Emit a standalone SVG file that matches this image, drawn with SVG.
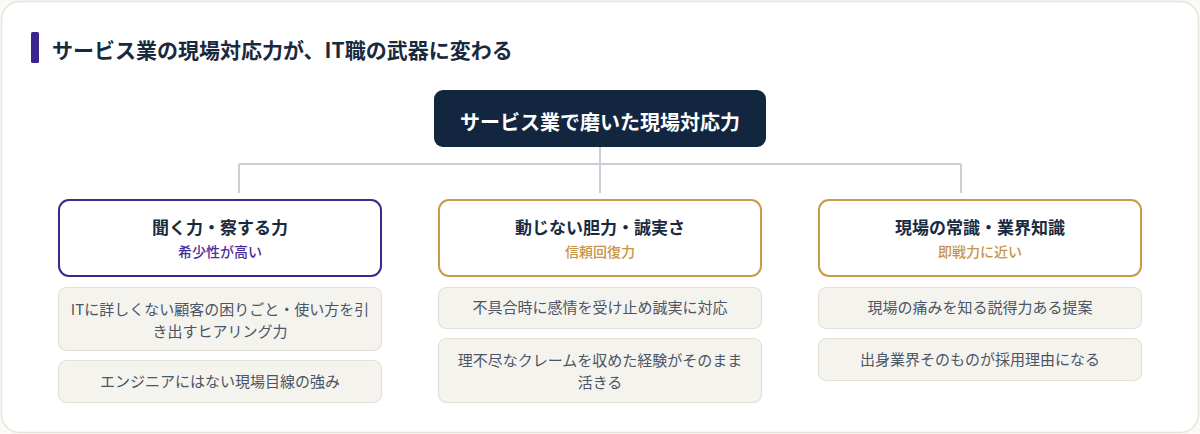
<svg xmlns="http://www.w3.org/2000/svg" width="1200" height="434" viewBox="0 0 1200 434">
<style>
text{font-family:"Noto Sans CJK JP","Noto Sans",sans-serif;text-anchor:middle}
.cat{fill:#fff;stroke-width:2}
.ct{font-size:17px;font-weight:700;fill:#1a2a3e}
.cs{font-size:14px;font-weight:500}
.item rect{fill:#f5f3ee;stroke:#e3e0d7;stroke-width:1.2}
.item text{font-size:15px;fill:#4a5565}
.conn{stroke:#c9ced6;stroke-width:2;fill:none}
</style>
<rect x="0" y="0" width="1200" height="434" fill="#fbfaf6"/>
<rect x="1.5" y="1.5" width="1197" height="431" rx="18" fill="#fff" stroke="#e8e4d8" stroke-width="1.5"/>
<g id="title">
<rect x="31" y="32" width="8" height="31" rx="1.5" fill="#3a2590"/>
<text x="52" y="58" style="text-anchor:start;font-size:21px;font-weight:700;fill:#1a2a3e">サービス業の現場対応力が、IT職の武器に変わる</text>
</g>
<g id="connectors" class="conn">
<path d="M600 147V164M239 164H961M239 164V193M600 164V193M961 164V193"/>
</g>
<g id="root">
<rect x="434" y="90" width="332" height="57" rx="9" fill="#13263f"/>
<text x="600" y="130" style="font-size:20px;font-weight:700;fill:#fff">サービス業で磨いた現場対応力</text>
</g>
<g id="cat1">
<rect class="cat" x="59" y="200" width="322" height="76" rx="10" stroke="#3b2a8c"/>
<text class="ct" x="220" y="234">聞く力・察する力</text>
<text class="cs" x="220" y="257" fill="#4a2f9c">希少性が高い</text>
</g>
<g id="cat2">
<rect class="cat" x="439" y="200" width="322" height="76" rx="10" stroke="#c99a4a"/>
<text class="ct" x="600" y="234">動じない胆力・誠実さ</text>
<text class="cs" x="600" y="257" fill="#c6944a">信頼回復力</text>
</g>
<g id="cat3">
<rect class="cat" x="819" y="200" width="322" height="76" rx="10" stroke="#c99a4a"/>
<text class="ct" x="980" y="234">現場の常識・業界知識</text>
<text class="cs" x="980" y="257" fill="#c6944a">即戦力に近い</text>
</g>
<g id="item1a" class="item">
<rect x="58.5" y="287.5" width="323" height="63" rx="8"/>
<text x="220" y="315">ITに詳しくない顧客の困りごと・使い方を引</text>
<text x="220" y="337">き出すヒアリング力</text>
</g>
<g id="item1b" class="item">
<rect x="58.5" y="360.5" width="323" height="42" rx="8"/>
<text x="220" y="387">エンジニアにはない現場目線の強み</text>
</g>
<g id="item2a" class="item">
<rect x="438.5" y="287.5" width="323" height="41" rx="8"/>
<text x="600" y="313">不具合時に感情を受け止め誠実に対応</text>
</g>
<g id="item2b" class="item">
<rect x="438.5" y="338.5" width="323" height="64" rx="8"/>
<text x="600" y="366">理不尽なクレームを収めた経験がそのまま</text>
<text x="600" y="388">活きる</text>
</g>
<g id="item3a" class="item">
<rect x="818.5" y="287.5" width="323" height="41" rx="8"/>
<text x="980" y="313">現場の痛みを知る説得力ある提案</text>
</g>
<g id="item3b" class="item">
<rect x="818.5" y="338.5" width="323" height="42" rx="8"/>
<text x="980" y="365">出身業界そのものが採用理由になる</text>
</g>
</svg>
